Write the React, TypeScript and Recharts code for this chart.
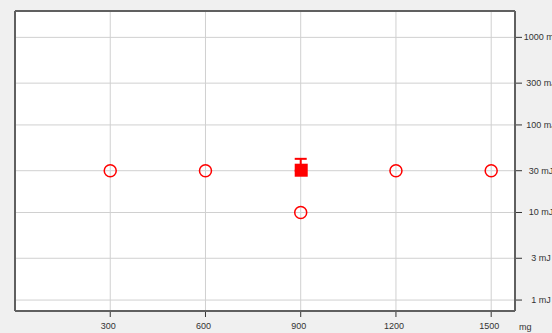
import {
  ScatterChart,
  Scatter,
  XAxis,
  YAxis,
  CartesianGrid,
  ErrorBar,
  ReferenceLine,
} from "recharts";

// dose (mg) vs energy (mJ), log scale on energy
const doses = [300, 600, 900, 1200, 1500];
const energies = [30, 30, 10, 30, 30];

const meanDoses = [900];
const meanEnergies = [30];
const meanErrLow = [0];
const meanErrHigh = [11];

const xTicks = [300, 600, 900, 1200, 1500];
const yTicks = [1, 3, 10, 30, 100, 300, 1000];

const X_DOMAIN: [number, number] = [0, 1575];
const Y_DOMAIN: [number, number] = [0.75, 2000];

const RED = "#ff0000";
const GRID = "#d0d0d0";
const FRAME = { stroke: "#606060", strokeWidth: 2 };
const FONT = "'Liberation Sans', Arial, sans-serif";

const singleData = doses.map((d, i) => ({ dose: d, energy: energies[i] }));
const meanData = meanDoses.map((d, i) => ({
  dose: d,
  energy: meanEnergies[i],
  err: [meanErrLow[i], meanErrHigh[i]],
}));

function RingShape(props: any) {
  const { cx, cy } = props;
  return <circle cx={cx} cy={cy} r={6} fill="none" stroke={RED} strokeWidth={1.5} />;
}

function SquareShape(props: any) {
  const { cx, cy } = props;
  return <rect x={cx - 6} y={cy - 7} width={13} height={13} fill={RED} />;
}

function XTick(props: any) {
  const { x, y, payload } = props;
  return (
    <g>
      <line x1={x} y1={y + 1} x2={x} y2={y + 6} stroke="#333" strokeWidth={1} />
      <text x={x - 2} y={y + 18} textAnchor="middle" fontSize={9} fontFamily={FONT} fill="#333">
        {payload.value}
      </text>
    </g>
  );
}

function YTick(props: any) {
  const { x, y, payload } = props;
  return (
    <g>
      <line x1={x + 1} y1={y} x2={x + 7} y2={y} stroke="#333" strokeWidth={1} />
      <text x={x + 26} y={y + 3} textAnchor="middle" fontSize={9} fontFamily={FONT} fill="#333">
        {payload.value + " mJ"}
      </text>
    </g>
  );
}

export default function App() {
  return (
    <div
      style={{
        position: "absolute",
        left: 0,
        top: 0,
        width: 552,
        height: 333,
        background: "#f0f0f0",
        overflow: "hidden",
      }}
    >
      <ScatterChart width={552} height={333} margin={{ top: 11, right: 0, bottom: 0, left: 15 }}>
        <CartesianGrid fill="#ffffff" stroke={GRID} strokeWidth={1} />
        <XAxis
          type="number"
          dataKey="dose"
          domain={X_DOMAIN}
          ticks={xTicks}
          allowDataOverflow
          height={22}
          axisLine={FRAME}
          tickLine={false}
          tickSize={0}
          tickMargin={0}
          tick={<XTick />}
          label={{ value: "mg", position: "right", offset: 4, dy: 5, fontSize: 9, fontFamily: FONT, fill: "#333" }}
        />
        <YAxis
          type="number"
          dataKey="energy"
          orientation="right"
          scale="log"
          domain={Y_DOMAIN}
          ticks={yTicks}
          allowDataOverflow
          width={37}
          axisLine={FRAME}
          tickLine={false}
          tickSize={0}
          tickMargin={0}
          tick={<YTick />}
        />
        {/* top and left edges of the frame */}
        <ReferenceLine y={Y_DOMAIN[1]} ifOverflow="visible" {...FRAME} />
        <ReferenceLine x={X_DOMAIN[0]} ifOverflow="visible" {...FRAME} />
        <Scatter data={singleData} shape={<RingShape />} isAnimationActive={false} />
        <Scatter data={meanData} shape={<SquareShape />} isAnimationActive={false}>
          <ErrorBar dataKey="err" direction="y" width={6} stroke={RED} strokeWidth={2} />
        </Scatter>
      </ScatterChart>
    </div>
  );
}
